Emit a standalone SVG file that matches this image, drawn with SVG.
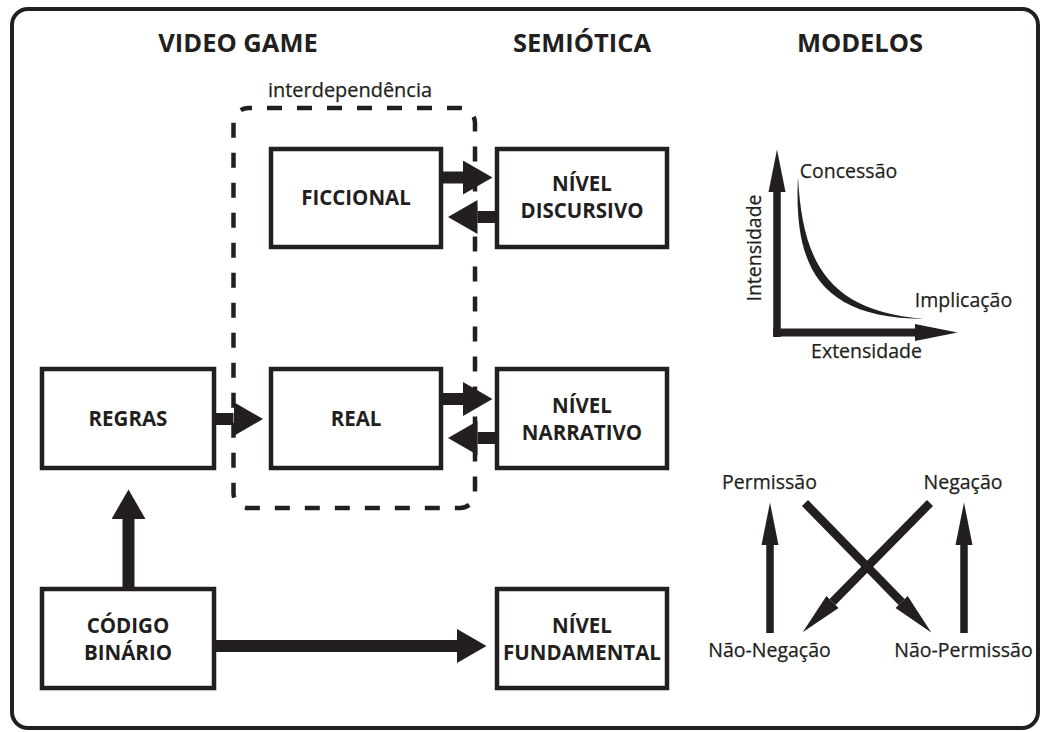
<svg xmlns="http://www.w3.org/2000/svg" width="1044" height="732" viewBox="0 0 1044 732">
  <style>
    .frame { fill: none; stroke: #231f20; stroke-width: 4; }
    .box { fill: #ffffff; stroke: #231f20; stroke-width: 4.5; }
    .group-outline { fill: none; stroke: #231f20; stroke-width: 4.5; stroke-dasharray: 15 15; stroke-dashoffset: 11.5; }
    .title { font-family: "Open Sans", "Liberation Sans", sans-serif; font-weight: 700; font-size: 25.5px; fill: #231f20; text-anchor: middle; }
    .label { font-family: "Open Sans", "Liberation Sans", sans-serif; font-weight: 700; font-size: 20.5px; fill: #231f20; text-anchor: middle; }
    .note { font-family: "Open Sans", "Liberation Sans", sans-serif; font-weight: 400; font-size: 19.5px; fill: #231f20; text-anchor: middle; stroke: #231f20; stroke-width: 0.25; }
    .flow { stroke: #231f20; stroke-width: 12; fill: none; marker-end: url(#blockhead); }
    .thin { stroke: #231f20; stroke-width: 7.5; fill: none; marker-end: url(#slimhead); }
  </style>
  <defs>
    <marker id="blockhead" markerUnits="userSpaceOnUse" markerWidth="30" markerHeight="34" refX="0" refY="17" orient="auto">
      <path d="M0,0 L29.5,17 L0,34 Z" fill="#231f20"/>
    </marker>
    <marker id="slimhead" markerUnits="userSpaceOnUse" markerWidth="43" markerHeight="18" refX="0" refY="9" orient="auto">
      <path d="M0,0.5 L42.5,9 L0,17.5 Z" fill="#231f20"/>
    </marker>
  </defs>

  <rect x="0" y="0" width="1044" height="732" fill="#ffffff"/>
  <rect class="frame" x="12" y="9" width="1026" height="719" rx="16"/>

  <!-- column headings -->
  <g id="headings">
    <text class="title" x="238" y="52">VIDEO GAME</text>
    <text class="title" x="582" y="52">SEMIÓTICA</text>
    <text class="title" x="860" y="52">MODELOS</text>
  </g>

  <!-- dashed grouping around the fictional / real layers -->
  <g id="interdependencia">
    <rect class="group-outline" x="233.5" y="108" width="241.5" height="400" rx="15"/>
    <text class="note" x="350" y="97" textLength="164" lengthAdjust="spacingAndGlyphs">interdependência</text>
  </g>

  <!-- connectors -->
  <g id="connectors">
    <line class="flow" x1="443" y1="177.5" x2="463" y2="177.5"/>
    <line class="flow" x1="495" y1="217" x2="477.5" y2="217"/>
    <line class="flow" x1="216" y1="419" x2="233.5" y2="419"/>
    <line class="flow" x1="443" y1="399" x2="463" y2="399"/>
    <line class="flow" x1="495" y1="438" x2="477.5" y2="438"/>
    <line class="flow" x1="128.5" y1="587" x2="128.5" y2="519"/>
    <line class="flow" x1="216" y1="646" x2="457" y2="646"/>
  </g>

  <!-- video game column -->
  <g id="ficcional">
    <rect class="box" x="271" y="149" width="170" height="98"/>
    <text class="label" x="356" y="205">FICCIONAL</text>
  </g>
  <g id="regras">
    <rect class="box" x="42" y="369" width="172" height="99"/>
    <text class="label" x="128" y="426">REGRAS</text>
  </g>
  <g id="real">
    <rect class="box" x="271" y="369" width="170" height="99"/>
    <text class="label" x="356" y="426">REAL</text>
  </g>
  <g id="codigo-binario">
    <rect class="box" x="42" y="589" width="172" height="99"/>
    <text class="label" x="128" y="633">CÓDIGO</text>
    <text class="label" x="128" y="660">BINÁRIO</text>
  </g>

  <!-- semiotic levels -->
  <g id="nivel-discursivo">
    <rect class="box" x="497" y="149" width="170" height="98"/>
    <text class="label" x="582" y="191">NÍVEL</text>
    <text class="label" x="582" y="218">DISCURSIVO</text>
  </g>
  <g id="nivel-narrativo">
    <rect class="box" x="497" y="369" width="170" height="99"/>
    <text class="label" x="582" y="413">NÍVEL</text>
    <text class="label" x="582" y="440">NARRATIVO</text>
  </g>
  <g id="nivel-fundamental">
    <rect class="box" x="497" y="589" width="170" height="99"/>
    <text class="label" x="582" y="633">NÍVEL</text>
    <text class="label" x="582" y="660">FUNDAMENTAL</text>
  </g>

  <!-- tensive model: intensity x extensity -->
  <g id="modelo-tensivo">
    <line class="thin" x1="777" y1="337" x2="777" y2="192"/>
    <line class="thin" x1="773.3" y1="332.5" x2="915" y2="332.5" style="stroke-width:8"/>
    <path d="M798,177 C793.5,268 820,318 924,319 C829,311 802.5,264 798,177 Z" fill="#231f20"/>
    <text class="note" x="848.5" y="178">Concessão</text>
    <text class="note" x="963.5" y="307">Implicação</text>
    <text class="note" x="866.5" y="358">Extensidade</text>
    <text class="note" transform="translate(761,248) rotate(-90)">Intensidade</text>
  </g>

  <!-- semiotic square of deontic modalities -->
  <g id="quadrado-semiotico">
    <line class="thin" x1="770" y1="633" x2="770" y2="545"/>
    <line class="thin" x1="964" y1="633" x2="964" y2="545"/>
    <line class="thin" x1="805" y1="503" x2="901.6" y2="602" style="stroke-width:8.5"/>
    <line class="thin" x1="930" y1="503" x2="832.5" y2="602" style="stroke-width:8.5"/>
    <text class="note" x="769.5" y="489">Permissão</text>
    <text class="note" x="963" y="489">Negação</text>
    <text class="note" x="769.5" y="657">Não-Negação</text>
    <text class="note" x="963.5" y="657">Não-Permissão</text>
  </g>
</svg>
